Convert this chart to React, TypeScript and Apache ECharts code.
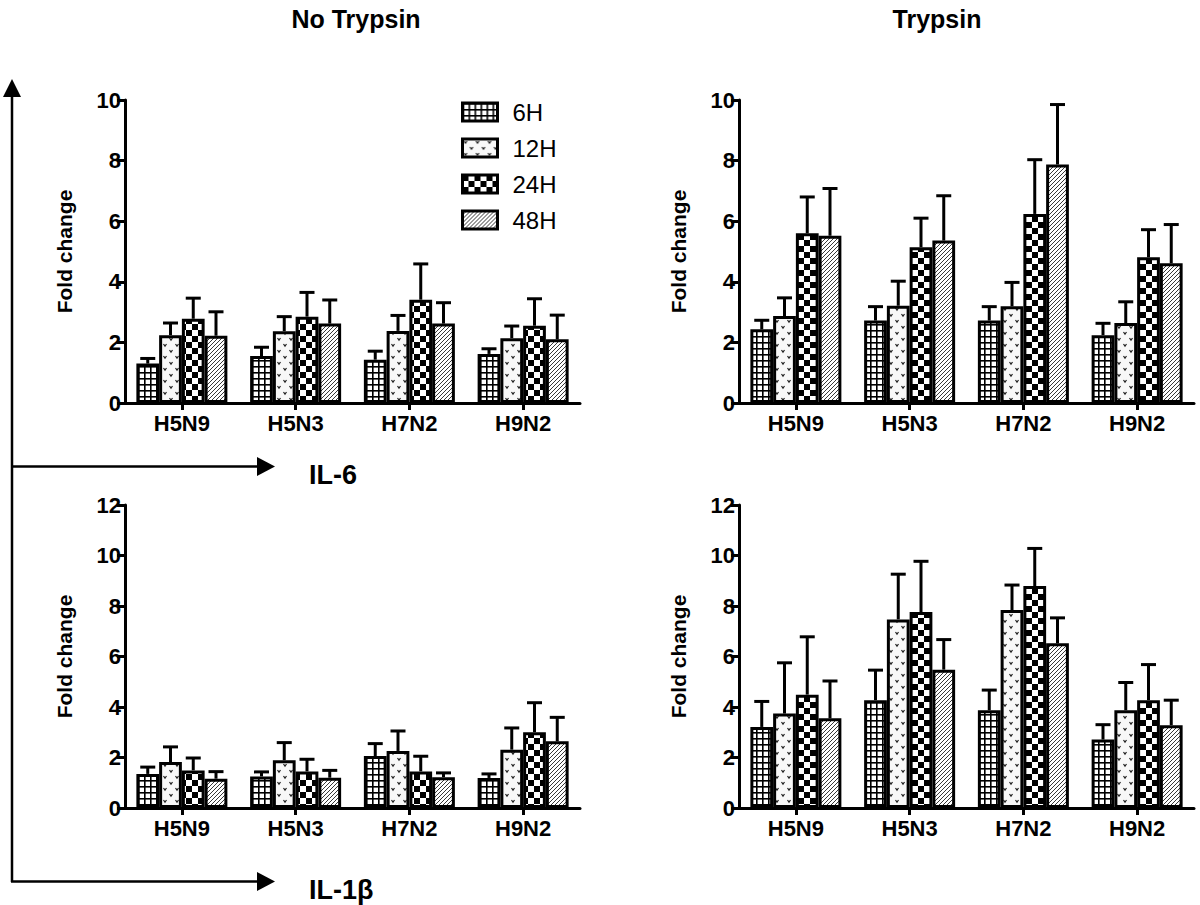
import React, { useEffect, useRef } from "react";
import * as echarts from "echarts";

const categories = ["H5N9", "H5N3", "H7N2", "H9N2"];
const times = ["6H", "12H", "24H", "48H"];

// rows: 6H, 12H, 24H, 48H ; columns: categories
const il6NoTrypsinMean = [
  [1.3, 1.55, 1.43, 1.62],
  [2.24, 2.37, 2.38, 2.14],
  [2.78, 2.85, 3.41, 2.55],
  [2.22, 2.62, 2.62, 2.1],
];
const il6NoTrypsinUpper = [
  [1.47, 1.84, 1.71, 1.79],
  [2.64, 2.85, 2.89, 2.54],
  [3.46, 3.65, 4.59, 3.44],
  [3.01, 3.4, 3.31, 2.9],
];
const il6TrypsinMean = [
  [2.43, 2.72, 2.72, 2.24],
  [2.87, 3.21, 3.19, 2.64],
  [5.6, 5.14, 6.24, 4.81],
  [5.52, 5.36, 7.87, 4.61],
];
const il6TrypsinUpper = [
  [2.73, 3.18, 3.18, 2.63],
  [3.47, 4.02, 3.98, 3.34],
  [6.8, 6.1, 8.03, 5.72],
  [7.08, 6.84, 9.85, 5.89],
];
const il1bNoTrypsinMean = [
  [1.35, 1.25, 2.06, 1.19],
  [1.82, 1.89, 2.26, 2.31],
  [1.49, 1.45, 1.45, 3.0],
  [1.16, 1.2, 1.22, 2.64],
];
const il1bNoTrypsinUpper = [
  [1.62, 1.43, 2.55, 1.35],
  [2.42, 2.59, 3.05, 3.17],
  [1.98, 1.93, 2.05, 4.17],
  [1.44, 1.49, 1.39, 3.59],
];
const il1bTrypsinMean = [
  [3.21, 4.27, 3.87, 2.71],
  [3.74, 7.47, 7.84, 3.87],
  [4.49, 7.76, 8.79, 4.27],
  [3.55, 5.48, 6.52, 3.28],
];
const il1bTrypsinUpper = [
  [4.22, 5.46, 4.67, 3.3],
  [5.75, 9.26, 8.83, 4.97],
  [6.78, 9.77, 10.28, 5.68],
  [5.03, 6.67, 7.53, 4.27],
];

const FONT = "'Liberation Sans', Arial, sans-serif";

function makePattern(kind: number) {
  const c = document.createElement("canvas");
  let w = 6;
  let h = 6;
  if (kind === 0) { w = 6; h = 6; }
  if (kind === 1) { w = 12; h = 12; }
  if (kind === 2) { w = 12; h = 12; }
  if (kind === 3) { w = 4; h = 4; }
  c.width = w;
  c.height = h;
  const ctx = c.getContext("2d")!;
  ctx.fillStyle = "#fff";
  ctx.fillRect(0, 0, w, h);
  if (kind === 0) {
    ctx.fillStyle = "#000";
    ctx.fillRect(0, 0, w, 1.6);
    ctx.fillRect(0, 0, 1.6, h);
  } else if (kind === 1) {
    ctx.fillStyle = "#f8f8f8";
    ctx.fillRect(0, 0, w, h);
    ctx.strokeStyle = "#222";
    ctx.lineWidth = 1.2;
    const v = (x: number, y: number) => {
      ctx.beginPath();
      ctx.moveTo(x - 1.5, y - 1);
      ctx.lineTo(x, y + 1.2);
      ctx.lineTo(x + 1.5, y - 1);
      ctx.stroke();
    };
    v(3, 3);
    v(9, 9);
  } else if (kind === 2) {
    ctx.fillStyle = "#000";
    ctx.fillRect(0, 0, 6, 6);
    ctx.fillRect(6, 6, 6, 6);
  } else {
    ctx.strokeStyle = "#222";
    ctx.lineWidth = 0.9;
    ctx.beginPath();
    ctx.moveTo(0, 4);
    ctx.lineTo(4, 0);
    ctx.moveTo(-1, 1);
    ctx.lineTo(1, -1);
    ctx.moveTo(3, 5);
    ctx.lineTo(5, 3);
    ctx.stroke();
  }
  return { image: c, repeat: "repeat", imageWidth: w, imageHeight: h } as any;
}

const panels = [
  { mean: il6NoTrypsinMean, upper: il6NoTrypsinUpper, max: 10, left: 125, top: 100 },
  { mean: il6TrypsinMean, upper: il6TrypsinUpper, max: 10, left: 739, top: 100 },
  { mean: il1bNoTrypsinMean, upper: il1bNoTrypsinUpper, max: 12, left: 125, top: 505 },
  { mean: il1bTrypsinMean, upper: il1bTrypsinUpper, max: 12, left: 739, top: 505 },
];

export default function App() {
  const ref = useRef<HTMLDivElement>(null);
  useEffect(() => {
    if (!ref.current) return;
    const chart = echarts.init(ref.current, undefined, { renderer: "svg" });
    const patterns = [0, 1, 2, 3].map((k) => makePattern(k));

    const grids = panels.map((p) => ({
      left: p.left,
      top: p.top,
      width: 455,
      height: 303,
      containLabel: false,
    }));
    const xAxes = panels.map((p, i) => ({
      type: "category",
      gridIndex: i,
      data: categories,
      axisLine: { show: true, lineStyle: { color: "#000", width: 3 } },
      axisTick: { show: true, alignWithLabel: true, length: 7, lineStyle: { color: "#000", width: 3 } },
      axisLabel: { color: "#000", fontSize: 22, fontWeight: "bold", fontFamily: FONT, margin: 9 },
      splitLine: { show: false },
    }));
    const yAxes = panels.map((p, i) => ({
      type: "value",
      gridIndex: i,
      min: 0,
      max: p.max,
      interval: 2,
      name: "Fold change",
      nameLocation: "middle",
      nameGap: 50,
      nameTextStyle: { color: "#000", fontSize: 21, fontWeight: "bold", fontFamily: FONT },
      axisLine: { show: true, lineStyle: { color: "#000", width: 3 } },
      axisTick: { show: true, length: 8, lineStyle: { color: "#000", width: 3 } },
      axisLabel: { color: "#000", fontSize: 22, fontWeight: "bold", fontFamily: FONT, margin: 4 },
      splitLine: { show: false },
    }));

    const series: any[] = [];
    panels.forEach((p, pi) => {
      times.forEach((t, ti) => {
        series.push({
          type: "bar",
          name: t,
          xAxisIndex: pi,
          yAxisIndex: pi,
          data: p.mean[ti],
          barGap: "0%",
          barCategoryGap: "20%",
          itemStyle: { color: patterns[ti], borderColor: "#000", borderWidth: 3 },
          emphasis: { disabled: true },
        });
      });
      const errData: number[][] = [];
      times.forEach((t, ti) => {
        categories.forEach((c, ci) => {
          errData.push([ci, p.upper[ti][ci], p.mean[ti][ci], ti]);
        });
      });
      series.push({
        type: "custom",
        xAxisIndex: pi,
        yAxisIndex: pi,
        data: errData,
        z: 3,
        silent: true,
        renderItem: (params: any, api: any) => {
          const ci = api.value(0);
          const up = api.value(1);
          const mv = api.value(2);
          const ti = api.value(3);
          const band = api.size([1, 0])[0];
          const bw = band * 0.2;
          const center = api.coord([ci, 0])[0];
          const x = center - band * 0.4 + bw * (ti + 0.5);
          const yTop = api.coord([ci, up])[1];
          const yVal = api.coord([ci, mv])[1];
          return {
            type: "group",
            children: [
              { type: "line", shape: { x1: x, y1: yVal, x2: x, y2: yTop }, style: { stroke: "#000", lineWidth: 3 } },
              { type: "line", shape: { x1: x - 7.5, y1: yTop, x2: x + 7.5, y2: yTop }, style: { stroke: "#000", lineWidth: 3 } },
            ],
          };
        },
      });
    });

    const txt = (text: string, x: number, y: number, size: number, align = "center") => ({
      type: "text",
      x,
      y,
      style: { text, fill: "#000", fontSize: size, fontWeight: "bold", fontFamily: FONT, align, verticalAlign: "middle" },
    });

    chart.setOption({
      animation: false,
      backgroundColor: "#fff",
      grid: grids,
      xAxis: xAxes,
      yAxis: yAxes,
      legend: {
        data: times,
        orient: "vertical",
        left: 456,
        top: 95,
        itemWidth: 35,
        itemHeight: 18,
        itemGap: 12,
        icon: "rect",
        selectedMode: false,
        itemStyle: { borderColor: "#000", borderWidth: 3 },
        textStyle: { color: "#000", fontSize: 24, lineHeight: 18, fontFamily: FONT, padding: [0, 0, 0, 10] },
      },
      series,
      graphic: [
        txt("No Trypsin", 356, 19, 25),
        txt("Trypsin", 937, 19, 25),
        txt("IL-6", 309, 475, 27, "left"),
        txt("IL-1β", 309, 890, 27, "left"),
        { type: "line", shape: { x1: 12, y1: 92, x2: 12, y2: 882 }, style: { stroke: "#000", lineWidth: 2.5 } },
        { type: "polygon", shape: { points: [[12, 79], [3, 97], [21, 97]] }, style: { fill: "#000" } },
        { type: "line", shape: { x1: 11, y1: 466.5, x2: 260, y2: 466.5 }, style: { stroke: "#000", lineWidth: 2.5 } },
        { type: "polygon", shape: { points: [[275, 466.5], [257, 457], [257, 476]] }, style: { fill: "#000" } },
        { type: "line", shape: { x1: 11, y1: 881.5, x2: 260, y2: 881.5 }, style: { stroke: "#000", lineWidth: 2.5 } },
        { type: "polygon", shape: { points: [[275, 881.5], [257, 872], [257, 891]] }, style: { fill: "#000" } },
      ],
    } as any);
    return () => chart.dispose();
  }, []);
  return (
    <div
      ref={ref}
      style={{ position: "fixed", left: 0, top: 0, width: 1200, height: 905, background: "#fff" }}
    />
  );
}
